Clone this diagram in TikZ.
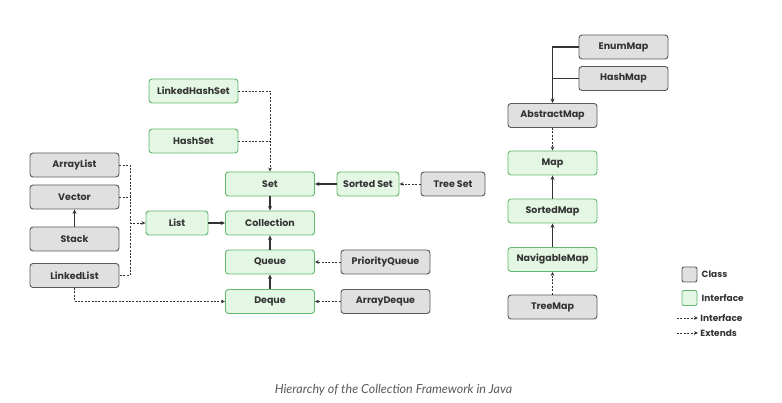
\documentclass[tikz,border=0pt]{standalone}
\usepackage{fontspec}
\setmainfont{Poppins}
\newfontfamily\capfont{Lato}
\usetikzlibrary{arrows.meta}
\usetikzlibrary{positioning}
\definecolor{classfill}{HTML}{E0E0E0}
\definecolor{classline}{HTML}{5A5A5A}
\definecolor{ifacefill}{HTML}{E3F7E4}
\definecolor{ifaceline}{HTML}{62B86F}
\definecolor{inkgray}{HTML}{333333}
\tikzset{box/.style = {rounded corners = 3pt, minimum height = 24pt, inner sep = 0pt,
                       line width = 0.9pt, text = inkgray,
                       font = \fontsize{9.5}{11}\selectfont\bfseries},
         classbox/.style = {box, draw = classline, fill = classfill, minimum width = 89pt},
         ifacebox/.style = {box, draw = ifaceline, fill = ifacefill, minimum width = 89pt},
         impl/.style = {inkgray, line width = 0.8pt, dash pattern = on 2pt off 1.4pt,
                        -{Stealth[length = 4pt, width = 3.6pt]}},
         ext/.style = {inkgray, line width = 1.1pt, -{Stealth[length = 4.5pt, width = 4pt]}},
         legtext/.style = {text = inkgray, inner sep = 1pt,
                           font = \fontsize{9}{10}\selectfont\bfseries}}

\begin{document}
\begin{tikzpicture}[x = 1pt, y = -1pt]
      \useasboundingbox (0, 0) rectangle (782, 403);

      \node [ifacebox] (lhset) at (193.5, 91) {LinkedHashSet};
      \node [ifacebox] (hset) at (193.5, 141) {HashSet};
      \node [ifacebox] (set) at (270, 184) {Set};
      \node [ifacebox, minimum width = 62pt] (sset) at (368, 184) {Sorted Set};
      \node [classbox, minimum width = 64pt] (tset) at (453, 184) {Tree Set};
      \node [ifacebox] (coll) at (270, 223) {Collection};
      \node [ifacebox, minimum width = 62pt] (list) at (177, 223) {List};
      \node [ifacebox] (queue) at (270, 262) {Queue};
      \node [ifacebox] (deque) at (270, 301.5) {Deque};
      \node [classbox] (pqueue) at (385.5, 262) {PriorityQueue};
      \node [classbox] (adeque) at (385.5, 301.5) {ArrayDeque};

      \node [classbox] (alist) at (74.5, 165) {ArrayList};
      \node [classbox] (vector) at (74.5, 197) {Vector};
      \node [classbox] (stack) at (74.5, 239) {Stack};
      \node [classbox] (llist) at (74.5, 275.5) {LinkedList};

      \node [classbox] (emap) at (623.5, 47) {EnumMap};
      \node [classbox] (hmap) at (623.5, 78.5) {HashMap};
      \node [classbox] (amap) at (552.5, 115.5) {AbstractMap};
      \node [ifacebox] (map) at (552.5, 163) {Map};
      \node [ifacebox] (smap) at (552.5, 211) {SortedMap};
      \node [ifacebox] (nmap) at (552.5, 259.5) {NavigableMap};
      \node [classbox] (tmap) at (552.5, 307) {TreeMap};

      \draw [impl] (lhset.east) -| (set.north);
      \draw [impl, -] (hset.east) -- (hset.east -| set.north);
      \draw [ext] (set) -- (coll);
      \draw [ext] (sset) -- (set);
      \draw [impl] (tset) -- (sset);
      \draw [ext] (list) -- (coll);
      \draw [ext] (queue) -- (coll);
      \draw [ext] (deque) -- (queue);
      \draw [impl] (pqueue) -- (queue);
      \draw [impl] (adeque) -- (deque);

      \coordinate (lbus) at (130, 223);
      \draw [impl, -] (alist.east) -| (lbus) |- (llist.east);
      \draw [impl, -] (vector.east) -- (vector.east -| lbus);
      \draw [impl] (lbus) -- (list);
      \draw [ext] (stack) -- (vector);
      \draw [impl] (llist.south) |- (deque.west);

      \draw [ext] (emap.west) -| (amap.north);
      \draw [ext, -] (hmap.west) -- (hmap.west -| amap.north);
      \draw [impl] (amap) -- (map);
      \draw [ext] (smap) -- (map);
      \draw [ext] (nmap) -- (smap);
      \draw [impl] (tmap) -- (nmap);

      \node [classbox, minimum width = 15pt, minimum height = 15pt, rounded corners = 2pt] (lclass) at (689.5, 274.5) {};
      \node [legtext, right = 3pt of lclass] {Class};
      \node [ifacebox, minimum width = 15pt, minimum height = 15pt, rounded corners = 2pt] (liface) at (689.5, 298) {};
      \node [legtext, right = 3pt of liface] {Interface};
      \coordinate (la) at (677, 318);
      \coordinate (lb) at (698, 318);
      \draw [impl] (la) -- (lb) node [legtext, right = 1pt] {Interface};
      \coordinate (lc) at (677, 333);
      \coordinate (ld) at (698, 333);
      \draw [impl] (lc) -- (ld) node [legtext, right = 1pt] {Extends};

      \node [text = black!65, font = \capfont\itshape\fontsize{12.5}{14}\selectfont] (caption) at (393.5, 390) {Hierarchy of the Collection Framework in Java};
    \end{tikzpicture}
\end{document}
